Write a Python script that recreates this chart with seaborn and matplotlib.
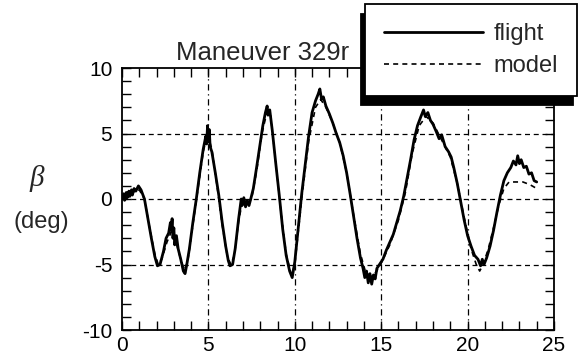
import matplotlib
matplotlib.use("Agg")
import matplotlib.pyplot as plt
from matplotlib.ticker import MultipleLocator
import seaborn as sns
import pandas as pd


# flight record (time in s, sideslip in deg)
flight_t = [0.00, 0.10, 0.15, 0.25, 0.30, 0.40, 0.45, 0.55, 0.60, 0.70, 0.80, 0.95,
            1.10, 1.30, 1.50, 1.70, 1.90, 2.05, 2.20, 2.40, 2.55, 2.70, 2.80, 2.85,
            2.90, 2.95, 3.00, 3.05, 3.15, 3.25, 3.40, 3.55, 3.65, 3.75, 3.90, 4.10,
            4.30, 4.50, 4.70, 4.85, 4.90, 4.95, 5.00, 5.05, 5.10, 5.20, 5.40, 5.60,
            5.80, 6.00, 6.15, 6.25, 6.40, 6.55, 6.75, 6.90, 6.95, 7.05, 7.15, 7.25,
            7.35, 7.45, 7.60, 7.80, 8.00, 8.15, 8.30, 8.40, 8.45, 8.55, 8.70, 8.90,
            9.10, 9.30, 9.50, 9.70, 9.85, 10.00, 10.20, 10.40, 10.60, 10.80, 11.00,
            11.20, 11.35, 11.45, 11.55, 11.65, 11.80, 12.00, 12.20, 12.40, 12.60,
            12.80, 13.00, 13.20, 13.40, 13.60, 13.80, 13.95, 14.05, 14.15, 14.25,
            14.35, 14.45, 14.55, 14.65, 14.75, 14.90, 15.10, 15.30, 15.50, 15.70,
            15.90, 16.10, 16.30, 16.50, 16.70, 16.90, 17.10, 17.30, 17.45, 17.55,
            17.70, 17.85, 18.00, 18.20, 18.35, 18.50, 18.70, 18.90, 19.05, 19.20,
            19.40, 19.60, 19.80, 20.00, 20.20, 20.40, 20.60, 20.75, 20.85, 20.95,
            21.10, 21.30, 21.50, 21.70, 21.90, 22.10, 22.30, 22.50, 22.65, 22.80,
            22.90, 23.00, 23.10, 23.25, 23.40, 23.55, 23.70, 23.85, 24.00]
flight_beta = [0.0, 0.4, -0.1, 0.5, 0.1, 0.6, 0.2, 0.7, 0.3, 0.8, 0.6, 1.0,
               0.7, 0.0, -1.5, -3.0, -4.4, -5.1, -5.0, -4.0, -3.0, -2.6, -1.8, -2.4,
               -1.5, -3.0, -2.2, -3.5, -2.8, -3.8, -4.6, -5.5, -5.7, -5.0, -3.8, -1.8,
               0.0, 2.0, 3.8, 4.8, 4.2, 5.6, 4.4, 5.3, 4.0, 3.6, 2.0, 0.3,
               -1.8, -3.6, -4.7, -5.1, -5.0, -3.8, -1.5, 0.0, -0.5, 0.1, -0.6, -0.1,
               -0.5, 0.0, 0.8, 2.5, 4.3, 5.6, 6.6, 7.1, 6.4, 6.8, 5.2, 2.7,
               0.3, -2.3, -4.3, -5.5, -6.0, -4.8, -2.2, 0.4, 2.6, 4.8, 6.6,
               7.5, 8.0, 8.4, 7.6, 7.8, 7.1, 6.5, 5.8, 5.0, 4.3,
               3.3, 2.0, 0.4, -1.3, -3.0, -4.5, -5.3, -6.0, -5.5, -6.4,
               -5.7, -6.5, -5.8, -6.1, -5.3, -5.0, -4.6, -3.9, -3.3, -2.7,
               -1.8, -0.9, 0.2, 1.6, 3.0, 4.5, 5.6, 6.3, 6.8, 6.3,
               6.6, 6.0, 5.7, 5.1, 4.6, 4.9, 4.0, 3.6, 3.2, 2.4,
               1.2, -0.2, -1.6, -2.8, -3.6, -4.3, -4.6, -5.1, -4.6, -5.0,
               -4.5, -3.6, -2.4, -1.0, 0.3, 1.4, 2.0, 2.4, 2.9, 2.6,
               3.3, 2.7, 3.0, 2.4, 2.5, 1.9, 2.0, 1.4, 1.3]

# model response
model_t = [0.0, 0.5, 1.0, 1.3, 1.6, 1.9, 2.1, 2.3, 2.6, 2.85, 3.1, 3.4, 3.6, 3.8,
           4.1, 4.4, 4.7, 4.95, 5.2, 5.5, 5.8, 6.1, 6.3, 6.5, 6.75, 6.95, 7.2, 7.5,
           7.8, 8.1, 8.4, 8.6, 8.9, 9.2, 9.5, 9.8, 10.0, 10.4, 10.8, 11.2, 11.5,
           11.8, 12.2, 12.6, 13.0, 13.4, 13.8, 14.1, 14.4, 14.7, 15.0, 15.5, 16.0,
           16.4, 16.8, 17.2, 17.6, 18.0, 18.5, 19.0, 19.4, 19.8, 20.2, 20.5, 20.7,
           20.9, 21.2, 21.5, 21.8, 22.1, 22.4, 22.8, 23.2, 23.6, 24.0]
model_beta = [0.0, 0.4, 0.7, 0.0, -2.2, -4.2, -5.0, -4.6, -3.3, -2.5, -3.2, -4.6, -5.4, -4.8,
              -2.0, 0.8, 3.6, 5.0, 3.8, 1.0, -2.0, -4.4, -5.0, -4.3, -1.7, -0.3, -0.4, 0.0,
              2.2, 5.0, 6.7, 6.4, 2.8, -1.0, -4.2, -5.8, -5.0, 0.0, 4.4, 7.0, 7.6,
              7.0, 5.8, 4.3, 2.0, -1.2, -4.2, -5.6, -5.9, -5.6, -4.9, -3.5, -1.6,
              0.5, 3.5, 5.6, 6.3, 5.8, 4.5, 3.2, 1.2, -1.4, -3.8, -5.0, -5.5,
              -5.0, -3.8, -2.2, -0.5, 0.8, 1.3, 1.3, 1.3, 1.1, 0.8]

title = "Maneuver 329r"
x_ticks = [0, 5, 10, 15, 20, 25]
y_ticks = [-10, -5, 0, 5, 10]


def main():

    sns.set_theme(style="ticks")
    plt.rcParams["font.family"] = ["Liberation Sans", "DejaVu Sans"]
    plt.rcParams["axes.unicode_minus"] = False

    fig = plt.figure(figsize=(5.78, 3.64), dpi=100)
    ax = fig.add_axes([122 / 578, 1 - 330 / 364, 432 / 578, 262 / 364])

    flight = pd.DataFrame({"t": flight_t, "beta": flight_beta})
    model = pd.DataFrame({"t": model_t, "beta": model_beta})

    # grid first so the curves sit on top
    for xv in x_ticks[1:-1]:
        ax.axvline(xv, color="black", lw=0.9, ls=(0, (5, 3, 1, 3)), zorder=1)
    for yv in y_ticks[1:-1]:
        ax.axhline(yv, color="black", lw=0.9, ls=(0, (4, 3)), zorder=1)

    sns.lineplot(data=flight, x="t", y="beta", ax=ax, color="black", lw=2.0,
                 estimator=None, sort=False, label="flight", zorder=3)
    sns.lineplot(data=model, x="t", y="beta", ax=ax, color="black", lw=1.2,
                 ls=(0, (3, 2.5)), estimator=None, sort=False, label="model", zorder=2)

    ax.set_xlim(0, 25)
    ax.set_ylim(-10, 10)
    ax.set_xticks(x_ticks)
    ax.set_yticks(y_ticks)
    ax.xaxis.set_minor_locator(MultipleLocator(1))
    ax.yaxis.set_minor_locator(MultipleLocator(1))
    ax.tick_params(which="both", direction="in", top=True, right=True,
                   length=6.5, width=1, color="black")
    ax.tick_params(axis="both", which="major", labelsize=15, labelcolor="black")
    ax.tick_params(axis="x", which="major", pad=4)
    ax.tick_params(axis="y", which="major", pad=7)
    ax.set_xlabel("")
    ax.set_ylabel("")
    for sp in ax.spines.values():
        sp.set_linewidth(1.3)
        sp.set_color("black")

    fig.text(263 / 578, 1 - 60 / 364, title, ha="center", va="baseline", fontsize=18.5)
    fig.text(37 / 578, 1 - 178 / 364, "β", ha="center", va="center", fontsize=21,
             family=["Liberation Serif", "DejaVu Serif"], style="italic")
    fig.text(41 / 578, 1 - 222 / 364, "(deg)", ha="center", va="center", fontsize=17)

    handles, labels = ax.get_legend_handles_labels()
    ax.get_legend().remove()
    leg = fig.legend(handles, labels, loc="upper right",
                     bbox_to_anchor=(577 / 578, 1 - 4 / 364), borderaxespad=0,
                     fontsize=17, handlelength=4.2, handletextpad=0.45,
                     labelspacing=0.42, borderpad=0.8, fancybox=False,
                     framealpha=1, edgecolor="black",
                     shadow={"ox": -3, "oy": -7, "facecolor": "black",
                             "edgecolor": "black", "alpha": 1})
    leg.get_frame().set_linewidth(1.3)
    leg.set_zorder(10)

    fig.savefig("out.png", dpi=100)


if __name__ == "__main__":
    main()
